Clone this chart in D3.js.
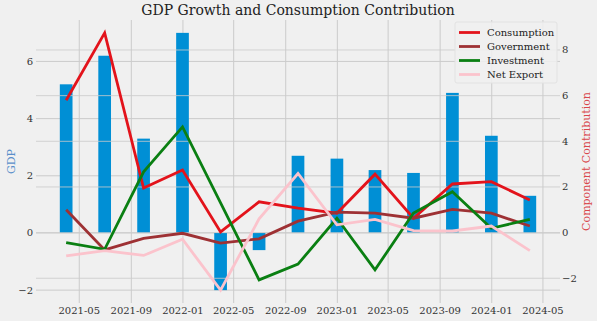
<!DOCTYPE html>
<html>
<head>
<meta charset="utf-8">
<script src="https://cdn.jsdelivr.net/npm/d3@7"></script>
<style>
  body { margin: 0; background: #f0f0f0; }
  svg { display: block; font-family: "DejaVu Serif", serif; }
</style>
</head>
<body>
<div id="visualization"></div>
<script>
// quarterly GDP growth and the contribution of each component
var quarters = ["2021-03-31", "2021-06-30", "2021-09-30", "2021-12-31",
                "2022-03-31", "2022-06-30", "2022-09-30", "2022-12-31",
                "2023-03-31", "2023-06-30", "2023-09-30", "2023-12-31",
                "2024-03-31"];
var gdp = [5.2, 6.2, 3.3, 7.0, -2.0, -0.6, 2.7, 2.6, 2.2, 2.1, 4.9, 3.4, 1.3];
var consumption = [5.8, 8.75, 1.95, 2.74, 0.03, 1.35, 1.07, 0.85, 2.56, 0.63, 2.13, 2.23, 1.43];
var government = [1.0, -0.76, -0.25, -0.03, -0.46, -0.27, 0.5, 0.9, 0.85, 0.63, 1.02, 0.85, 0.29];
var investment = [-0.44, -0.73, 2.66, 4.63, 1.3, -2.07, -1.38, 0.63, -1.63, 0.86, 1.79, 0.19, 0.58];
var netExport = [-1.02, -0.79, -1.0, -0.29, -2.52, 0.6, 2.59, 0.34, 0.58, 0.09, 0.07, 0.29, -0.79];

var seriesNames = ["Consumption", "Government", "Investment", "Net Export"];
var seriesColors = ["#e3131b", "#9e3134", "#0a7f12", "#fbc3cc"];
var seriesValues = [consumption, government, investment, netExport];

var xTicks = ["2021-05-01", "2021-09-01", "2022-01-01", "2022-05-01", "2022-09-01",
              "2023-01-01", "2023-05-01", "2023-09-01", "2024-01-01", "2024-05-01"];
var leftTicks = [-2, 0, 2, 4, 6];
var rightTicks = [-2, 0, 2, 4, 6, 8];

var parseDate = d3.timeParse("%Y-%m-%d");
var dates = quarters.map(parseDate);
var tickDates = xTicks.map(parseDate);

var width = 597, height = 321;
var plotLeft = 36, plotRight = 560, plotTop = 20, plotBottom = 303;
var dayMs = 24 * 3600 * 1000;
var barDays = 30;

var svgContainer = d3.select("#visualization").append("svg")
    .attr("width", width)
    .attr("height", height);

svgContainer.append("rect")
    .attr("width", width)
    .attr("height", height)
    .attr("fill", "#f0f0f0");

// x domain padded like matplotlib: half a bar plus 5% margin
var first = dates[0].getTime() - barDays / 2 * dayMs;
var last = dates[dates.length - 1].getTime() + barDays / 2 * dayMs;
var pad = (last - first) * 0.05;
var x = d3.scaleTime()
    .domain([new Date(first - pad), new Date(last + pad)])
    .range([plotLeft, plotRight]);

function padded(ext) {
  var m = (ext[1] - ext[0]) * 0.05;
  return [ext[0] - m, ext[1] + m];
}
var yLeft = d3.scaleLinear()
    .domain(padded(d3.extent(gdp)))
    .range([plotBottom, plotTop]);
var yRight = d3.scaleLinear()
    .domain(padded(d3.extent(d3.merge(seriesValues))))
    .range([plotBottom, plotTop]);

var gridColor = "#cbcbcb";

// vertical grid and left horizontal grid go under the bars
svgContainer.append("g").selectAll("line")
    .data(tickDates).enter().append("line")
    .attr("x1", function(d) { return x(d); })
    .attr("x2", function(d) { return x(d); })
    .attr("y1", plotTop)
    .attr("y2", plotBottom)
    .attr("stroke", gridColor)
    .attr("stroke-width", 1);

svgContainer.append("g").selectAll("line")
    .data(leftTicks).enter().append("line")
    .attr("x1", plotLeft)
    .attr("x2", plotRight)
    .attr("y1", function(d) { return yLeft(d); })
    .attr("y2", function(d) { return yLeft(d); })
    .attr("stroke", gridColor)
    .attr("stroke-width", 1);

// GDP bars
var barW = x(new Date(dates[0].getTime() + barDays * dayMs)) - x(dates[0]);
svgContainer.append("g").selectAll("rect")
    .data(gdp).enter().append("rect")
    .attr("x", function(d, i) { return x(dates[i]) - barW / 2; })
    .attr("y", function(d) { return Math.min(yLeft(d), yLeft(0)); })
    .attr("width", barW)
    .attr("height", function(d) { return Math.abs(yLeft(d) - yLeft(0)); })
    .attr("fill", "#008fd5");

// the twin axis grid sits on top of the bars
svgContainer.append("g").selectAll("line")
    .data(rightTicks).enter().append("line")
    .attr("x1", plotLeft)
    .attr("x2", plotRight)
    .attr("y1", function(d) { return yRight(d); })
    .attr("y2", function(d) { return yRight(d); })
    .attr("stroke", gridColor)
    .attr("stroke-opacity", 0.8)
    .attr("stroke-width", 1);

// component lines
var line = d3.line()
    .x(function(d, i) { return x(dates[i]); })
    .y(function(d) { return yRight(d); });

for (var s = 0; s < seriesValues.length; s++) {
  svgContainer.append("path")
      .datum(seriesValues[s])
      .attr("d", line)
      .attr("fill", "none")
      .attr("stroke", seriesColors[s])
      .attr("stroke-width", 2.8)
      .attr("stroke-linejoin", "miter");
}

// tick labels
var tickColor = "#333333";
var fmt = d3.timeFormat("%Y-%m");
svgContainer.append("g").selectAll("text")
    .data(tickDates).enter().append("text")
    .attr("x", function(d) { return x(d); })
    .attr("y", 314)
    .attr("text-anchor", "middle")
    .attr("font-size", "10px")
    .attr("fill", tickColor)
    .text(function(d) { return fmt(d); });

svgContainer.append("g").selectAll("text")
    .data(leftTicks).enter().append("text")
    .attr("x", 33)
    .attr("y", function(d) { return yLeft(d) + 3.5; })
    .attr("text-anchor", "end")
    .attr("font-size", "10px")
    .attr("fill", tickColor)
    .text(function(d) { return d < 0 ? "\u2212" + Math.abs(d) : d; });

svgContainer.append("g").selectAll("text")
    .data(rightTicks).enter().append("text")
    .attr("x", 562)
    .attr("y", function(d) { return yRight(d) + 3.5; })
    .attr("text-anchor", "start")
    .attr("font-size", "10px")
    .attr("fill", tickColor)
    .text(function(d) { return d < 0 ? "\u2212" + Math.abs(d) : d; });

// axis titles
var midY = (plotTop + plotBottom) / 2;
svgContainer.append("text")
    .attr("transform", "translate(15," + midY + ") rotate(-90)")
    .attr("text-anchor", "middle")
    .attr("font-size", "11px")
    .attr("fill", "#5a8fca")
    .text("GDP");

svgContainer.append("text")
    .attr("transform", "translate(590," + midY + ") rotate(-90)")
    .attr("text-anchor", "middle")
    .attr("font-size", "11px")
    .attr("fill", "#d9474b")
    .text("Component Contribution");

svgContainer.append("text")
    .attr("x", 298)
    .attr("y", 15)
    .attr("text-anchor", "middle")
    .attr("font-size", "14px")
    .attr("fill", "#222222")
    .text("GDP Growth and Consumption Contribution");

// legend
var legend = svgContainer.append("g");
legend.append("rect")
    .attr("x", 455)
    .attr("y", 22)
    .attr("width", 102)
    .attr("height", 61)
    .attr("rx", 2)
    .attr("fill", "#f0f0f0")
    .attr("fill-opacity", 0.85)
    .attr("stroke", "#e2e2e2");

for (var k = 0; k < seriesNames.length; k++) {
  var ly = 32.5 + k * 14;
  legend.append("line")
      .attr("x1", 459)
      .attr("x2", 480)
      .attr("y1", ly)
      .attr("y2", ly)
      .attr("stroke", seriesColors[k])
      .attr("stroke-width", 2.8);
  legend.append("text")
      .attr("x", 487)
      .attr("y", ly + 3.5)
      .attr("font-size", "10px")
      .attr("fill", "#222222")
      .text(seriesNames[k]);
}
</script>
</body>
</html>
